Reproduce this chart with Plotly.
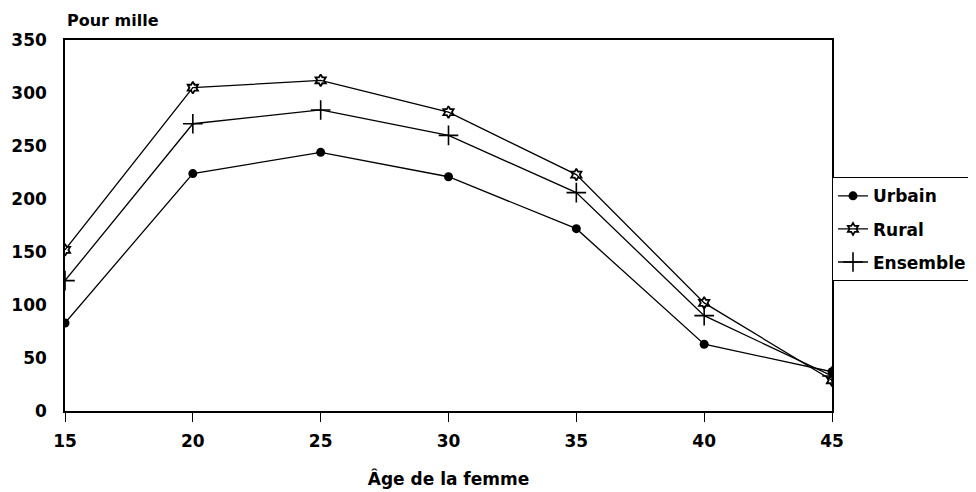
import plotly.graph_objects as go

ages = [15, 20, 25, 30, 35, 40, 45]
urbain = [83, 224, 244, 221, 172, 63, 37]
rural = [152, 305, 312, 282, 223, 102, 29]
ensemble = [123, 271, 284, 260, 206, 90, 33]
y_ticks = [0, 50, 100, 150, 200, 250, 300, 350]

FAM = "DejaVu Sans, Liberation Sans, Arial, sans-serif"
font = dict(family=FAM, size=17, color="black")
fig = go.Figure()
fig.add_trace(go.Scatter(x=ages, y=urbain, name="<b>Urbain</b>", mode="lines+markers",
                         legendgroup="u",
                         line=dict(color="black", width=1.3),
                         marker=dict(symbol="circle", size=9, color="black")))
fig.add_trace(go.Scatter(x=ages, y=rural, name="<b>Rural</b>", mode="lines+markers",
                         legendgroup="r",
                         line=dict(color="black", width=1.3),
                         marker=dict(symbol="hexagram-open", size=9, color="black", line=dict(width=1.8))))
fig.add_trace(go.Scatter(x=ages, y=ensemble, name="<b>Ensemble</b>", mode="lines+markers",
                         legendgroup="e",
                         line=dict(color="black", width=1.3),
                         marker=dict(symbol="cross-thin-open", size=14, color="black", line=dict(width=1.6, color="black"))))

# page body has ~8px default margin; margins compensate so plot sits at x 65..832, y 40..411
fig.update_layout(
    width=976, height=492,
    margin=dict(l=57, r=152, t=32, b=89),
    paper_bgcolor="white", plot_bgcolor="white",
    font=font,
    showlegend=True,
    legend=dict(x=1.0, y=0.63, xanchor="left", yanchor="top",
                bordercolor="black", borderwidth=1, bgcolor="white",
                font=dict(family=FAM, size=17, color="black"),
                itemwidth=30, tracegroupgap=8),
    annotations=[
        dict(text="<b>Pour mille</b>", xref="paper", yref="paper", x=0.0, y=1.0,
             xanchor="left", yanchor="bottom", yshift=8, showarrow=False,
             font=dict(family=FAM, size=16)),
    ],
)
fig.update_xaxes(range=[15, 45], tickvals=ages, ticktext=[f"<b>{a}</b>" for a in ages],
                 showgrid=False, zeroline=False, showline=True, linecolor="black", linewidth=1.5,
                 mirror=True, ticks="outside", ticklen=9, tickcolor="black", automargin=False,
                 ticklabelstandoff=5,
                 title=dict(text="<b>Âge de la femme</b>", standoff=23, font=dict(family=FAM, size=17)))
fig.update_yaxes(range=[0, 350], tickvals=y_ticks, ticktext=[f"<b>{v}</b>" for v in y_ticks],
                 showgrid=False, zeroline=False, showline=True, linecolor="black", linewidth=1.5,
                 mirror=True, ticks="", ticklabelstandoff=13, automargin=False)

fig.write_html("out.html")
